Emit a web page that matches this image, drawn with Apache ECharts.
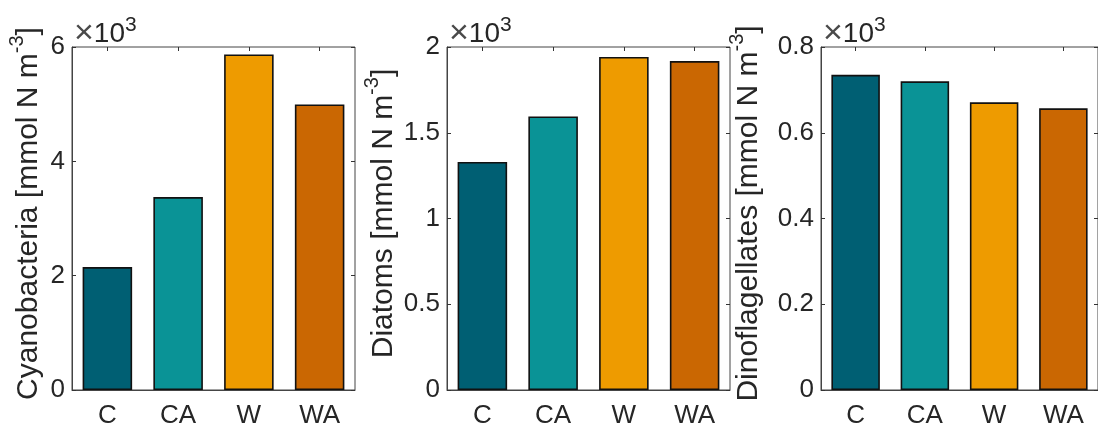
<!DOCTYPE html>
<html>
<head>
<meta charset="utf-8">
<script src="https://cdn.jsdelivr.net/npm/echarts@6/dist/echarts.min.js"></script>
<style>
html,body{margin:0;padding:0;background:#fff;}
#c{width:1098px;height:429px;}
</style>
</head>
<body>
<div id="c"></div>
<script>
// ---- data ----
const categories = ['C', 'CA', 'W', 'WA'];
const cyanobacteria = [2150, 3375, 5870, 4995];
const diatoms = [1330, 1595, 1942, 1918];
const dinoflagellates = [735, 720, 671, 657];
const barColors = ['#005F73', '#0A9396', '#EE9B00', '#CA6702'];
const yMax = [6000, 2000, 800];
const yInterval = [2000, 500, 200];
const titles = ['Cyanobacteria', 'Diatoms', 'Dinoflagellates'];
const unitText = ' [mmol N m';
const unitSup = '-3';
const multiplierBase = '10';
const multiplierExp = '3';

// ---- layout ----
const FONT = "'Liberation Sans', Arial, sans-serif";
const TXT = '#262626';
const AX = '#454545';
const grids = [
  {left: 72, top: 47, width: 283, height: 343},
  {left: 447, top: 47, width: 283, height: 343},
  {left: 821, top: 47, width: 284, height: 343}
];
const titleX = [29, 384, 749];
const seriesData = [cyanobacteria, diatoms, dinoflagellates];

const chart = echarts.init(document.getElementById('c'), null, {renderer: 'canvas'});

function axLine(show) { return {show: show, onZero: false, lineStyle: {color: AX, width: 1}}; }
function tick() { return {show: true, inside: true, length: 4, lineStyle: {color: '#333', width: 1}}; }

const xAxes = [], yAxes = [], series = [], graphics = [];
grids.forEach((g, i) => {
  xAxes.push({
    type: 'category', gridIndex: i, data: categories, position: 'bottom',
    axisLine: axLine(true),
    axisTick: Object.assign(tick(), {alignWithLabel: true}),
    axisLabel: {show: true, color: TXT, fontSize: 26, fontFamily: FONT, margin: 13},
    splitLine: {show: false}
  });
  xAxes.push({
    type: 'category', gridIndex: i, data: categories, position: 'top',
    axisLine: axLine(false),
    axisTick: Object.assign(tick(), {alignWithLabel: true}),
    axisLabel: {show: false},
    splitLine: {show: false}
  });
  yAxes.push({
    type: 'value', gridIndex: i, min: 0, max: yMax[i], interval: yInterval[i],
    position: 'left',
    axisLine: axLine(true), axisTick: tick(), splitLine: {show: false},
    axisLabel: {show: true, color: TXT, fontSize: 26, fontFamily: FONT, margin: 7,
      formatter: v => String(Math.round(v) / 1000)}
  });
  yAxes.push({
    type: 'value', gridIndex: i, min: 0, max: yMax[i], interval: yInterval[i],
    position: 'right',
    axisLine: axLine(false), axisTick: tick(), splitLine: {show: false},
    axisLabel: {show: false}
  });
  series.push({
    type: 'bar', xAxisIndex: 2 * i, yAxisIndex: 2 * i,
    barWidth: '70%',
    data: seriesData[i].map((v, k) => ({
      value: v,
      itemStyle: {color: barColors[k], borderColor: '#111', borderWidth: 1.6}
    })),
    animation: false
  });
  // y-axis title
  graphics.push({
    type: 'text',
    x: titleX[i],
    y: g.top + g.height / 2 - 5,
    rotation: Math.PI / 2,
    z: 10,
    style: {
      text: titles[i] + unitText + '{s|' + unitSup + '}]',
      fill: TXT,
      font: '30px ' + FONT,
      lineHeight: 44,
      align: 'center',
      verticalAlign: 'middle',
      rich: {
        s: {fontSize: 20, fontFamily: FONT, lineHeight: 20, verticalAlign: 'top', fill: TXT}
      }
    }
  });
  // x10^3 multiplier
  graphics.push({
    type: 'text',
    x: g.left + 2,
    y: 34,
    z: 10,
    style: {
      text: '{x|×}{n|' + multiplierBase + '}{s|' + multiplierExp + '}',
      fill: TXT,
      font: '28px ' + FONT,
      lineHeight: 38,
      align: 'left',
      verticalAlign: 'middle',
      rich: {
        x: {fontSize: 34, fontFamily: FONT, lineHeight: 38, fill: '#4a4a4a'},
        n: {fontSize: 28, fontFamily: FONT, lineHeight: 38, fill: TXT},
        s: {fontSize: 21, fontFamily: FONT, lineHeight: 21, verticalAlign: 'top', fill: TXT}
      }
    }
  });
});

chart.setOption({
  animation: false,
  backgroundColor: '#ffffff',
  grid: grids.map(g => Object.assign({containLabel: false, show: true, borderColor: AX, borderWidth: 1, backgroundColor: 'transparent'}, g)),
  xAxis: xAxes,
  yAxis: yAxes,
  series: series,
  graphic: graphics
});
</script>
</body>
</html>
